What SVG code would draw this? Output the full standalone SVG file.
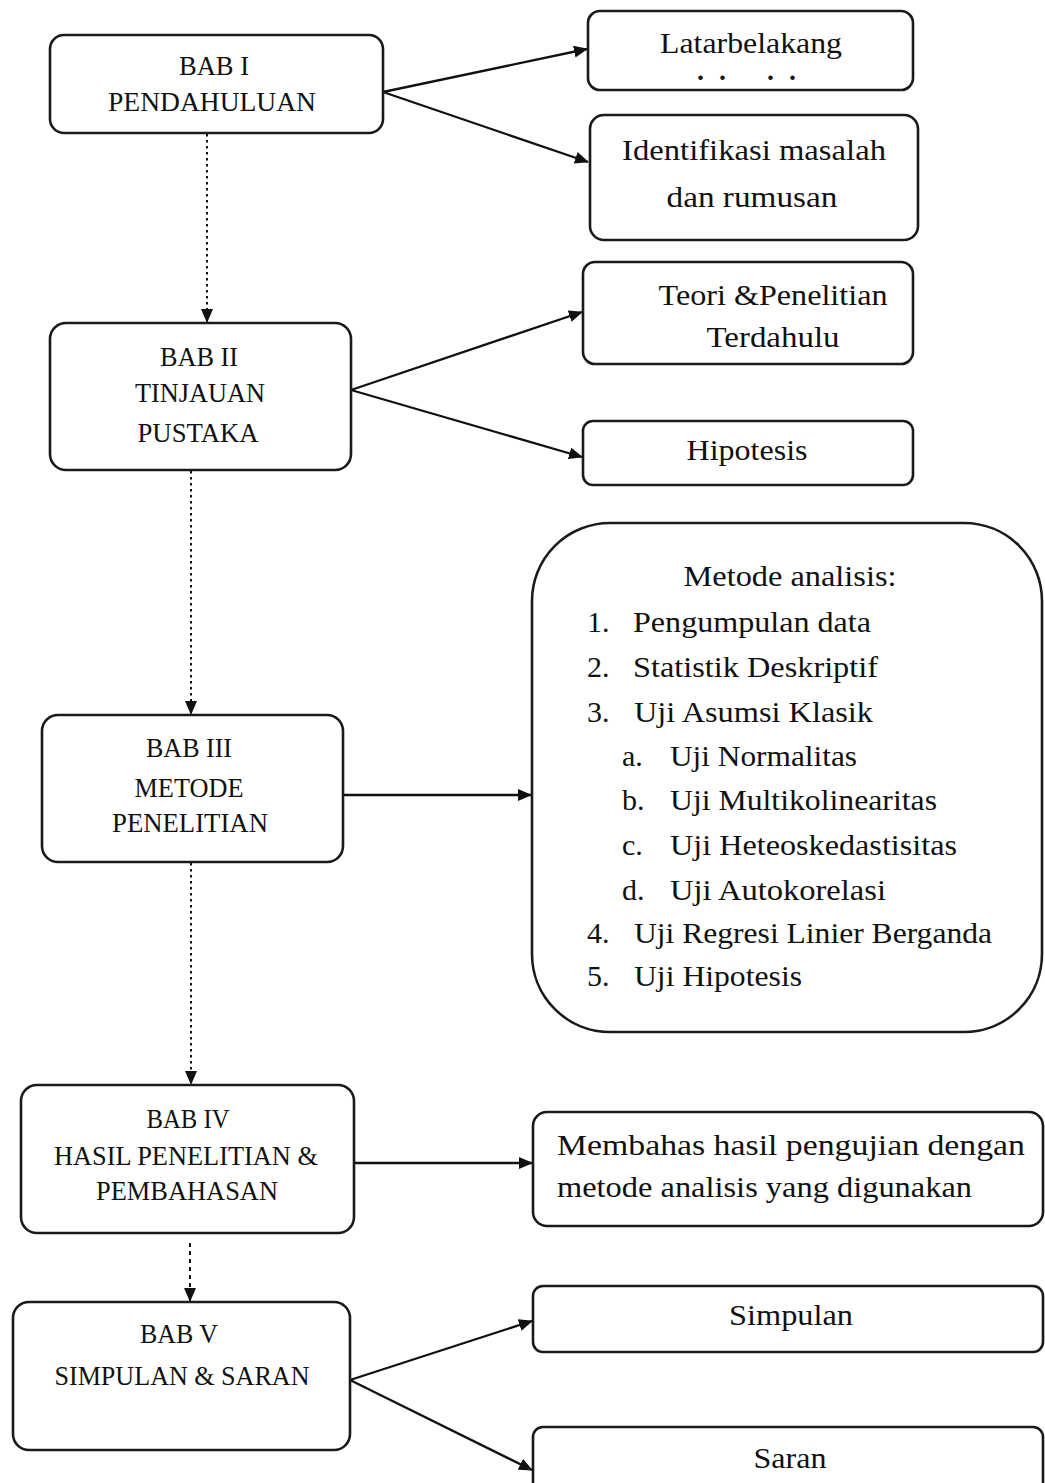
<svg xmlns="http://www.w3.org/2000/svg" width="1045" height="1483" viewBox="0 0 1045 1483">
<style>
.box{fill:#fff;stroke:#1a1a1a;stroke-width:2.6}
.t{font-family:"Liberation Serif","Times New Roman",serif;font-size:28px;fill:#111}
.c{text-anchor:middle}
.l{font-size:30px}
.ln{stroke:#111;stroke-width:2.3;fill:none}
.dot{stroke:#111;stroke-width:2;fill:none;stroke-dasharray:2.5 3.5}
</style>
<defs>
<marker id="ah" viewBox="0 0 14 12" refX="13" refY="6" markerWidth="14" markerHeight="12" markerUnits="userSpaceOnUse" orient="auto">
<path d="M0,0 L14,6 L0,12 z" fill="#111"/>
</marker>
</defs>
<rect width="1045" height="1483" fill="#fff"/>

<g id="connectors">
<line class="ln" x1="383" y1="92" x2="587" y2="49" marker-end="url(#ah)"/>
<line class="ln" x1="383" y1="92" x2="588" y2="162" marker-end="url(#ah)"/>
<line class="dot" x1="207" y1="134" x2="207" y2="322" marker-end="url(#ah)"/>
<line class="ln" x1="351" y1="390" x2="582" y2="312" marker-end="url(#ah)"/>
<line class="ln" x1="351" y1="390" x2="582" y2="457" marker-end="url(#ah)"/>
<line class="dot" x1="191" y1="471" x2="191" y2="714" marker-end="url(#ah)"/>
<line class="ln" x1="343" y1="795" x2="531" y2="795" marker-end="url(#ah)"/>
<line class="dot" x1="191" y1="863" x2="191" y2="1084" marker-end="url(#ah)"/>
<line class="ln" x1="355" y1="1163" x2="532" y2="1163" marker-end="url(#ah)"/>
<line class="dot" x1="190" y1="1243" x2="190" y2="1301" marker-end="url(#ah)" style="stroke-dasharray:4 4"/>
<line class="ln" x1="350" y1="1380" x2="532" y2="1321" marker-end="url(#ah)"/>
<line class="ln" x1="350" y1="1380" x2="532" y2="1470" marker-end="url(#ah)"/>
</g>

<g id="bab1">
<rect class="box" x="50" y="35" width="333" height="98" rx="14"/>
<text class="t c" x="214" y="75" textLength="70" lengthAdjust="spacingAndGlyphs">BAB I</text>
<text class="t c" x="212" y="111" textLength="208" lengthAdjust="spacingAndGlyphs">PENDAHULUAN</text>
</g>

<g id="latar">
<rect class="box" x="588" y="11" width="325" height="79" rx="12"/>
<text class="t l c" x="751" y="53" textLength="182" lengthAdjust="spacingAndGlyphs">Latarbelakang</text>
<text class="t" x="697 719 767 789" y="80" font-size="12" font-weight="bold">....</text>
</g>

<g id="identifikasi">
<rect class="box" x="590" y="115" width="328" height="125" rx="14"/>
<text class="t l c" x="754" y="160" textLength="264" lengthAdjust="spacingAndGlyphs">Identifikasi masalah</text>
<text class="t l c" x="752" y="207" textLength="171" lengthAdjust="spacingAndGlyphs">dan rumusan</text>
</g>

<g id="bab2">
<rect class="box" x="50" y="323" width="301" height="147" rx="16"/>
<text class="t c" x="199" y="366" textLength="78" lengthAdjust="spacingAndGlyphs">BAB II</text>
<text class="t c" x="200" y="402" textLength="130" lengthAdjust="spacingAndGlyphs">TINJAUAN</text>
<text class="t c" x="198" y="442" textLength="121" lengthAdjust="spacingAndGlyphs">PUSTAKA</text>
</g>

<g id="teori">
<rect class="box" x="583" y="262" width="330" height="102" rx="12"/>
<text class="t l c" x="773" y="305" textLength="229" lengthAdjust="spacingAndGlyphs">Teori &amp;Penelitian</text>
<text class="t l c" x="773" y="347" textLength="133" lengthAdjust="spacingAndGlyphs">Terdahulu</text>
</g>

<g id="hipotesis">
<rect class="box" x="583" y="421" width="330" height="64" rx="10"/>
<text class="t l c" x="747" y="460" textLength="121" lengthAdjust="spacingAndGlyphs">Hipotesis</text>
</g>

<g id="bab3">
<rect class="box" x="42" y="715" width="301" height="147" rx="16"/>
<text class="t c" x="189" y="757" textLength="86" lengthAdjust="spacingAndGlyphs">BAB III</text>
<text class="t c" x="189" y="797" textLength="109" lengthAdjust="spacingAndGlyphs">METODE</text>
<text class="t c" x="190" y="832" textLength="156" lengthAdjust="spacingAndGlyphs">PENELITIAN</text>
</g>

<g id="metode">
<rect class="box" x="532" y="523" width="510" height="509" rx="78"/>
<text class="t l c" x="790" y="586" textLength="213" lengthAdjust="spacingAndGlyphs">Metode analisis:</text>
<text class="t l" x="587" y="632">1.</text>
<text class="t l" x="633" y="632" textLength="238" lengthAdjust="spacingAndGlyphs">Pengumpulan data</text>
<text class="t l" x="587" y="677">2.</text>
<text class="t l" x="633" y="677" textLength="245" lengthAdjust="spacingAndGlyphs">Statistik Deskriptif</text>
<text class="t l" x="587" y="722">3.</text>
<text class="t l" x="634" y="722" textLength="239" lengthAdjust="spacingAndGlyphs">Uji Asumsi Klasik</text>
<text class="t l" x="622" y="766">a.</text>
<text class="t l" x="670" y="766" textLength="187" lengthAdjust="spacingAndGlyphs">Uji Normalitas</text>
<text class="t l" x="622" y="810">b.</text>
<text class="t l" x="670" y="810" textLength="267" lengthAdjust="spacingAndGlyphs">Uji Multikolinearitas</text>
<text class="t l" x="622" y="855">c.</text>
<text class="t l" x="670" y="855" textLength="287" lengthAdjust="spacingAndGlyphs">Uji Heteoskedastisitas</text>
<text class="t l" x="622" y="900">d.</text>
<text class="t l" x="670" y="900" textLength="216" lengthAdjust="spacingAndGlyphs">Uji Autokorelasi</text>
<text class="t l" x="587" y="943">4.</text>
<text class="t l" x="634" y="943" textLength="358" lengthAdjust="spacingAndGlyphs">Uji Regresi Linier Berganda</text>
<text class="t l" x="587" y="986">5.</text>
<text class="t l" x="634" y="986" textLength="168" lengthAdjust="spacingAndGlyphs">Uji Hipotesis</text>
</g>

<g id="bab4">
<rect class="box" x="21" y="1085" width="333" height="148" rx="16"/>
<text class="t c" x="188" y="1128" textLength="83" lengthAdjust="spacingAndGlyphs">BAB IV</text>
<text class="t c" x="186" y="1165" textLength="264" lengthAdjust="spacingAndGlyphs">HASIL PENELITIAN &amp;</text>
<text class="t c" x="187" y="1200" textLength="182" lengthAdjust="spacingAndGlyphs">PEMBAHASAN</text>
</g>

<g id="membahas">
<rect class="box" x="533" y="1112" width="510" height="114" rx="14"/>
<text class="t l" x="557" y="1155" textLength="468" lengthAdjust="spacingAndGlyphs">Membahas  hasil pengujian  dengan</text>
<text class="t l" x="557" y="1197" textLength="415" lengthAdjust="spacingAndGlyphs">metode analisis yang digunakan</text>
</g>

<g id="bab5">
<rect class="box" x="13" y="1302" width="337" height="148" rx="16"/>
<text class="t c" x="179" y="1343" textLength="78" lengthAdjust="spacingAndGlyphs">BAB V</text>
<text class="t c" x="182" y="1385" textLength="255" lengthAdjust="spacingAndGlyphs">SIMPULAN &amp; SARAN</text>
</g>

<g id="simpulan">
<rect class="box" x="533" y="1286" width="510" height="66" rx="10"/>
<text class="t l c" x="791" y="1325" textLength="124" lengthAdjust="spacingAndGlyphs">Simpulan</text>
</g>

<g id="saran">
<rect class="box" x="533" y="1427" width="510" height="80" rx="10"/>
<text class="t l c" x="790" y="1468" textLength="73" lengthAdjust="spacingAndGlyphs">Saran</text>
</g>
</svg>
